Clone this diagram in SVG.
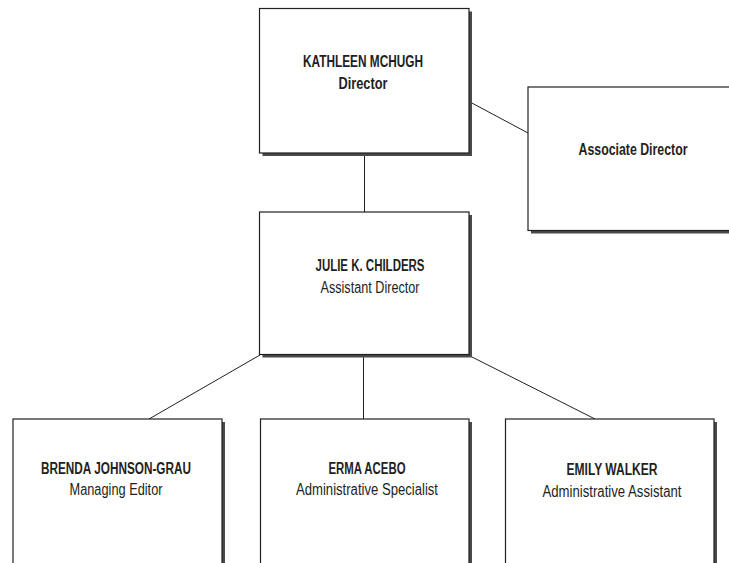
<svg xmlns="http://www.w3.org/2000/svg" width="729" height="563" viewBox="0 0 729 563">
<style>
.box{fill:#ffffff;stroke:#231f20;stroke-width:1.2}
.sh{fill:#4a4a4a}
.ln{stroke:#231f20;stroke-width:1;fill:none}
text{font-family:"Liberation Sans",Arial,sans-serif;font-size:16px;fill:#231f20;text-anchor:middle}
.b{font-weight:bold}
</style>
<rect width="729" height="563" fill="#ffffff"/>
<g id="connectors">
<line class="ln" x1="364.5" y1="153" x2="364.5" y2="212"/>
<line class="ln" x1="470" y1="102" x2="528" y2="133"/>
<line class="ln" x1="260" y1="355" x2="149" y2="419"/>
<line class="ln" x1="363.5" y1="357" x2="363.5" y2="419"/>
<line class="ln" x1="472" y1="357" x2="595" y2="419"/>
</g>
<g id="director">
<rect class="sh" x="262.5" y="11.5" width="209.5" height="144.5"/>
<rect class="box" x="259.5" y="8.5" width="209.5" height="144.5"/>
<text class="b" x="363" y="67" textLength="120" lengthAdjust="spacingAndGlyphs">KATHLEEN MCHUGH</text>
<text class="b" x="363" y="89" textLength="49" lengthAdjust="spacingAndGlyphs">Director</text>
</g>
<g id="associate">
<rect class="sh" x="531" y="90" width="210" height="143.5"/>
<rect class="box" x="528" y="87" width="210" height="143.5"/>
<text class="b" x="633" y="155" textLength="109" lengthAdjust="spacingAndGlyphs">Associate Director</text>
</g>
<g id="assistant">
<rect class="sh" x="262.5" y="215" width="209.5" height="142.5"/>
<rect class="box" x="259.5" y="212" width="209.5" height="142.5"/>
<text class="b" x="370" y="271" textLength="109" lengthAdjust="spacingAndGlyphs">JULIE K. CHILDERS</text>
<text x="370" y="293" textLength="99" lengthAdjust="spacingAndGlyphs">Assistant Director</text>
</g>
<g id="brenda">
<rect class="sh" x="16" y="422" width="209" height="160"/>
<rect class="box" x="13" y="419" width="209" height="160"/>
<text class="b" x="116" y="474" textLength="150" lengthAdjust="spacingAndGlyphs">BRENDA JOHNSON-GRAU</text>
<text x="116" y="495" textLength="93" lengthAdjust="spacingAndGlyphs">Managing Editor</text>
</g>
<g id="erma">
<rect class="sh" x="263.5" y="422" width="208.5" height="160"/>
<rect class="box" x="260.5" y="419" width="208.5" height="160"/>
<text class="b" x="367" y="473.5" textLength="77" lengthAdjust="spacingAndGlyphs">ERMA ACEBO</text>
<text x="367" y="495" textLength="142" lengthAdjust="spacingAndGlyphs">Administrative Specialist</text>
</g>
<g id="emily">
<rect class="sh" x="508.5" y="422" width="208.5" height="160"/>
<rect class="box" x="505.5" y="419" width="208.5" height="160"/>
<text class="b" x="612" y="475" textLength="91" lengthAdjust="spacingAndGlyphs">EMILY WALKER</text>
<text x="612" y="497" textLength="139" lengthAdjust="spacingAndGlyphs">Administrative Assistant</text>
</g>
</svg>
